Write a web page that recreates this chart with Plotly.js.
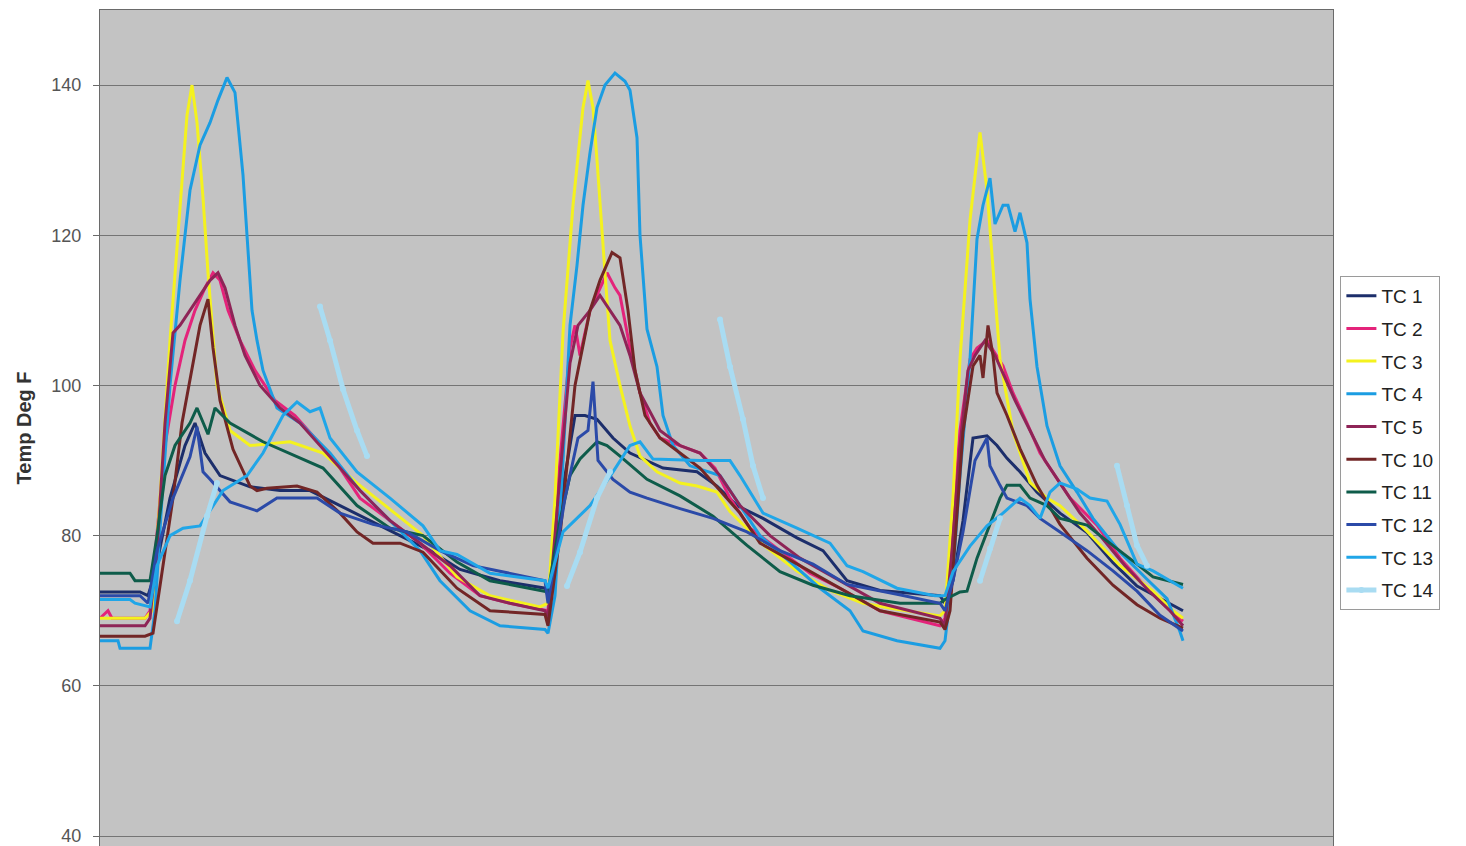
<!DOCTYPE html>
<html>
<head>
<meta charset="utf-8">
<script src="https://cdn.plot.ly/plotly-3.0.1.min.js"></script>
<style>html,body{margin:0;padding:0;background:#fff;}#chart{width:1466px;height:846px;}</style>
</head>
<body>
<div id="chart"></div>
<script>
// Sample number (unlabelled time axis) and temperature (Deg F) for each thermocouple
const seriesNames = ["TC 1","TC 2","TC 3","TC 4","TC 5","TC 10","TC 11","TC 12","TC 13","TC 14"];

const tc1_t = [100,140,148,155,170,185,195,205,220,250,280,310,340,370,400,430,460,500,545,
  548,565,575,585,597,613,630,663,697,717,737,763,797,823,847,880,940,
  945,953,963,973,987,997,1007,1020,1037,1060,1087,1113,1137,1160,1183];
const tc1_v = [72.5,72.5,72,75,85,92,95,91,88,86.5,86,86,84,82,80,78,75.5,74,73,
  72,88,96,96,95.5,93,91,89,88.5,86.6,84,82.3,79.7,78,74,72.7,72,
  71,74,82,93,93.3,92,90.3,88.5,85.8,83,80.4,76.4,73.3,71.6,70];

const tc2_t = [100,108,112,145,150,157,165,175,185,195,205,213,220,228,240,255,275,295,315,335,360,390,420,450,480,510,545,
  548,560,570,575,580,590,600,607,615,620,630,640,650,660,680,700,715,730,750,780,810,840,880,940,
  945,952,960,970,977,987,1003,1013,1027,1040,1053,1070,1097,1120,1147,1170,1183];
const tc2_v = [69,70,69,69,70,80,92,100,106,110,113,115,114,110,106,102,98,96,93,90,85,82,79,75,72,71,70,
  70,90,105,108,104,110,113,115,113,112,105,99,95,93,92,91,89,85,81,78,75,73,70,68,
  69,80,94,103.5,105,106,102.6,99,95,91,88.4,85,81.4,77,73,70,68.6];

const tc3_t = [100,145,152,160,170,180,187,192,197,203,208,217,230,250,290,323,357,390,423,457,490,540,
  548,555,563,573,583,588,593,597,600,605,610,620,630,640,657,680,697,717,730,763,797,830,863,897,940,
  945,953,960,970,980,987,993,1000,1013,1030,1047,1060,1087,1120,1153,1173,1183];
const tc3_v = [69,69,70,85,106,124,136,140,135,125,115,100,94,92,92.5,91,87,83.5,80,74.5,72,70.5,
  71,85,107,124,137,140.6,137,130,124,115,106,100,94.6,90.6,88.5,87,86.6,85.8,83.2,78.8,75.3,72.7,71,70.2,69.3,
  70,85,103.5,122,133.7,126,115.8,103.5,93.8,87.1,85,84,80.6,76,72.6,70,69];

const tc4_t = [100,118,120,150,155,162,170,180,190,200,210,218,227,235,243,247,252,257,263,277,300,330,360,390,420,440,470,500,545,
  548,555,563,570,577,583,590,597,605,615,625,630,637,640,647,657,663,673,690,720,740,760,790,820,850,863,897,940,
  945,953,960,965,970,977,983,990,995,1003,1008,1015,1020,1027,1030,1037,1047,1060,1077,1093,1120,1147,1167,1180,1183];
const tc4_v = [66,66,65,65,70,85,100,114,126,132,135,138,141,139,128,120,110,106,102,97,95,91,86,82,78,74,70,68,67.5,
  67,72,90,108,116,124,131,137,140,141.6,140.5,139.3,133,120,107.5,102.5,96,92,89.3,88,84,80,76.5,73,70,67.3,66,65,
  66,75,88,96,103.5,119.5,124,127.6,121.5,124,124,120.5,123,119,111.5,102.5,94.6,89.3,85.8,82.3,77.8,74.2,71.6,67.2,66];

const tc5_t = [100,145,150,157,165,173,180,190,200,210,218,225,235,245,260,280,300,320,340,360,390,420,450,480,510,545,
  548,560,570,578,590,600,610,620,630,640,660,680,700,720,740,770,800,840,880,940,
  945,952,960,968,975,985,995,1005,1015,1030,1045,1060,1080,1100,1125,1150,1170,1183];
const tc5_v = [68,68,69,78,95,107,108,110,112,114,115,113,108,104,100,97,95,92,89,86,82,79,76,72,71,70,
  69,88,103,108,110,112,110,108,104,99,94,92,91,88,84,80,77,74,71,69,
  68,78,92,102,104,106,104,101,98,94,90,87,83,80,76,72.5,70,68];

const tc10_t = [100,145,153,163,173,182,190,200,208,213,220,233,250,257,267,297,317,340,357,373,400,423,457,490,545,
  548,560,575,590,600,612,620,628,635,645,660,680,700,720,740,760,800,840,880,940,
  945,950,957,963,973,980,983,988,993,997,1007,1020,1037,1060,1087,1113,1137,1160,1183];
const tc10_v = [66.6,66.6,67,76,85,95,101,108,111.5,105,98,91.5,86.6,86,86.3,86.6,85.8,83,80.5,79,79,77.8,73,70,69.5,
  68,80,100,110,114,117.7,117,110,102,96,93,91,89,86,83,79,76,73,70,68.5,
  67.5,70,83,93.8,102.6,104,101,108,104,99,96,91.6,86.7,81.5,77,73.4,70.8,69,67.7];

const tc11_t = [100,130,135,150,157,165,175,190,197,208,215,230,263,307,323,357,390,423,457,490,545,
  548,560,570,580,597,607,620,647,680,713,747,780,813,850,900,940,
  945,960,967,977,987,1000,1007,1020,1030,1047,1060,1087,1103,1120,1137,1153,1167,1183];
const tc11_v = [75,75,74,74,80,88,92,95,97,93.5,97,95,92.5,90,89,84,81,80,76.5,74,72.5,
  72.5,82,88,90.2,92.5,92,90.6,87.5,85.3,82.6,78.7,75.2,73.4,72,71,71,
  71.5,72.5,72.6,77,80.5,85,86.7,86.7,85,84,82.3,81.4,79.7,78,76.2,74.5,74,73.5];

const tc12_t = [100,140,148,157,173,190,197,203,210,230,257,277,317,340,373,407,440,473,545,
  548,565,578,588,593,598,613,630,647,680,713,747,780,813,847,897,940,
  945,953,963,975,987,990,1000,1007,1027,1040,1060,1087,1113,1137,1160,1183];
const tc12_v = [72,72,71,78,85,90.5,94.5,88.5,87.5,84.5,83.3,85,85,83,81.5,80.5,78,76,74,
  71,85,93,94,100.5,90,87.5,85.8,85,83.6,82.3,80.5,78,76.2,73.5,72.2,71,
  70,74,80.5,90,93,89.3,86.7,85,84,82.3,80.5,78,75.3,72.6,69.4,67.3];

const tc13_t = [100,130,135,150,157,170,183,200,223,247,263,283,297,310,320,330,357,390,423,440,457,490,545,
  548,563,590,613,630,640,653,700,730,740,763,797,830,847,863,897,935,
  940,945,953,970,987,1003,1020,1030,1040,1050,1060,1077,1090,1107,1120,1137,1153,1170,1183];
const tc13_v = [71.5,71.5,71,70.5,76,80,81,81.3,86,88,91,96,97.8,96.5,97,93,88.5,85,81.3,78,77.5,75,74,
  73,80.5,84,88.5,92,92.5,90.2,90,90,88,83,81,79,76,75.2,73,72,
  72,72,75.2,78.6,81.3,83,85,84,82.3,85.8,87,86.2,85,84.6,81.5,76.2,75.3,74,73];

// TC 14 only logged in short bursts; null breaks the line between bursts
const tc14_t = [177,190,207,217,218,320,330,343,357,367,368,567,580,597,610,611,720,730,743,753,763,764,980,990,1000,1001,1117,1127,1137,1147];
const tc14_v = [68.6,74,82.6,87,null,110.5,106,99.5,94,90.6,null,73.3,77.8,85,88.5,null,108.8,102.5,95.5,89.3,85,null,74,78.3,82.3,null,89.3,84,78.7,76];

const yTicks = [40,60,80,100,120,140];

const seriesT = [tc1_t,tc2_t,tc3_t,tc4_t,tc5_t,tc10_t,tc11_t,tc12_t,tc13_t,tc14_t];
const seriesV = [tc1_v,tc2_v,tc3_v,tc4_v,tc5_v,tc10_v,tc11_v,tc12_v,tc13_v,tc14_v];
const colors = ['#1c2e6b','#e4237a','#f4f21e','#1b9de2','#8e2457','#722626','#0e5c4a','#2b4aa8','#20a6e8','#a9dcf2'];

const traces = seriesNames.map((n,i)=>{
  const tr = {
    type:'scatter', x:seriesT[i], y:seriesV[i], name:n, legendgroup:'g'+i,
    mode:'lines', line:{color:colors[i], width:3}, connectgaps:false, hoverinfo:'skip'
  };
  if (n==='TC 14') {
    tr.mode='lines+markers';
    tr.line={color:colors[i], width:5};
    tr.marker={color:colors[i], size:6, symbol:'circle'};
  }
  return tr;
});

const layout = {
  width:1466, height:846,
  margin:{l:100, r:133, t:10, b:0},
  paper_bgcolor:'#ffffff',
  plot_bgcolor:'#c3c3c3',
  font:{family:'Arial, "Liberation Sans", sans-serif', color:'#444'},
  showlegend:true,
  legend:{
    x:1.006, xanchor:'left', y:0.682, yanchor:'top',
    bgcolor:'#ffffff', bordercolor:'#9a9a9a', borderwidth:1,
    font:{size:19, color:'#222'}, tracegroupgap:5,
    entrywidth:118, entrywidthmode:'pixels'
  },
  xaxis:{
    range:[100,1333], showticklabels:false, showgrid:false, zeroline:false,
    showline:true, mirror:true, linecolor:'#6a6a6a', linewidth:1, ticks:''
  },
  yaxis:{
    range:[38.67,150], tickvals:yTicks, ticktext:yTicks.map(String),
    showgrid:true, gridcolor:'#747474', gridwidth:1, zeroline:false,
    showline:true, mirror:true, linecolor:'#6a6a6a', linewidth:1,
    ticks:'outside', ticklen:6, tickcolor:'#6a6a6a', ticklabelstandoff:8,
    ticklabeloverflow:'allow',
    tickfont:{size:18, color:'#555'},
    title:{text:'<b>Temp Deg F</b>', font:{size:20, color:'#333'}, standoff:14},
    automargin:false
  }
};

Plotly.newPlot('chart', traces, layout, {staticPlot:true, displayModeBar:false});
</script>
</body>
</html>
